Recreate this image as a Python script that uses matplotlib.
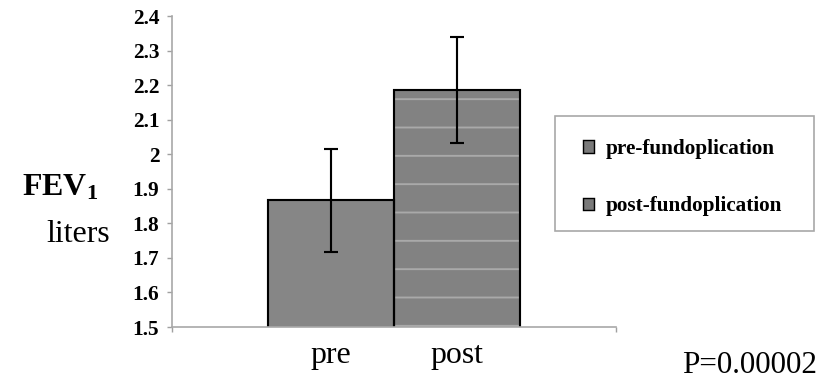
import matplotlib
matplotlib.use("Agg")
import matplotlib.pyplot as plt
from matplotlib.patches import Rectangle

# data
groups = ["pre", "post"]
series = ["pre-fundoplication", "post-fundoplication"]
fev1 = [1.867, 2.186]
err = [0.149, 0.154]
yticks = [1.5, 1.6, 1.7, 1.8, 1.9, 2.0, 2.1, 2.2, 2.3, 2.4]
colors = ["#868686", "#828282"]

DPI = 170
plt.rcParams["font.family"] = "Liberation Serif"
plt.rcParams["mathtext.fontset"] = "custom"
plt.rcParams["mathtext.rm"] = "Liberation Serif"
plt.rcParams["mathtext.bf"] = "Liberation Serif:bold"
plt.rcParams["hatch.linewidth"] = 0.8

fig = plt.figure(figsize=(829 / DPI, 382 / DPI), dpi=DPI)
ax = fig.add_axes([172 / 829, 1 - 327 / 382, (616 - 172) / 829, (327 - 16) / 382])

x = list(range(len(groups)))
# fill
ax.bar(x, fev1, width=1.0, color=colors, linewidth=0, zorder=2)
# light stripes on the post bar
ax.bar(x[1], fev1[1], width=1.0, color="none", edgecolor="#a9a9a9", hatch="-",
       linewidth=0, zorder=2.1)
# outlines
ax.bar(x, fev1, width=1.0, fill=False, edgecolor="black", linewidth=0.9, zorder=2.2)

ax.errorbar(x, fev1, yerr=err, fmt="none", ecolor="black", elinewidth=0.9,
            capsize=2.8, capthick=0.9, zorder=3)

ax.set_ylim(1.5, 2.4)
ax.set_xlim(-1.262, 2.262)
ax.set_yticks(yticks)
ax.set_yticklabels(["%g" % v for v in yticks], fontweight="bold", fontsize=9)
ax.set_xticks(x)
ax.set_xticklabels(groups, fontsize=13.5)
ax.set_xticks([-1.262, 2.262], minor=True)
ax.tick_params(axis="x", which="major", length=0, pad=6)
ax.tick_params(axis="x", which="minor", length=2.2, width=0.6, color="#a0a0a0")
ax.tick_params(axis="y", length=2.2, width=0.6, color="#a0a0a0", pad=3.2)

for s in ["top", "right"]:
    ax.spines[s].set_visible(False)
for s in ["left", "bottom"]:
    ax.spines[s].set_color("#a8a8a8")
    ax.spines[s].set_linewidth(0.7)

fig.text(22 / 829, 1 - 195 / 382, r"$\mathbf{FEV_1}$", fontsize=13.5, ha="left", va="baseline")
fig.text(46 / 829, 1 - 242 / 382, "liters", fontsize=13.5, ha="left", va="baseline")
fig.text(682 / 829, 1 - 373 / 382, "P=0.00002", fontsize=13.2, ha="left", va="baseline")

# legend frame and entries
fig.patches.append(Rectangle((555 / 829, 1 - 231 / 382), (814 - 555) / 829, (231 - 116) / 382,
                             transform=fig.transFigure, fill=False,
                             edgecolor="#a8a8a8", linewidth=0.7))
handles = [Rectangle((0, 0), 1, 1, facecolor="#7a7a7a", edgecolor="black", linewidth=0.6)
           for _ in series]
leg = fig.legend(handles, series, loc="upper left",
                 bbox_to_anchor=(583 / 829, 1 - 139 / 382),
                 prop={"weight": "bold", "size": 9},
                 handlelength=0.5, handleheight=0.5, handletextpad=0.55,
                 labelspacing=1.75, borderpad=0, frameon=False,
                 borderaxespad=0)

fig.savefig("out.png", dpi=DPI)
